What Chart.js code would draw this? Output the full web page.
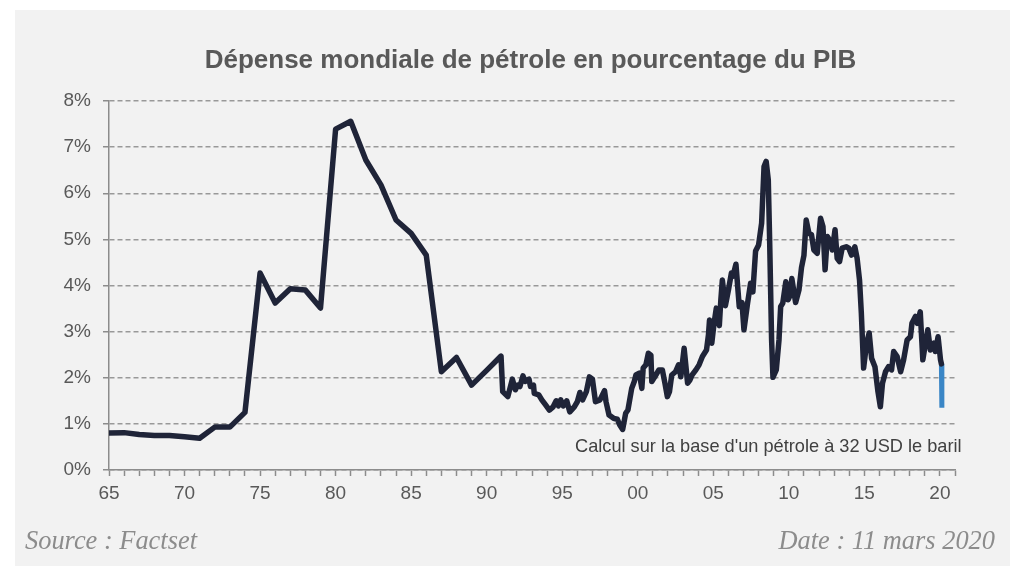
<!DOCTYPE html>
<html>
<head>
<meta charset="utf-8">
<script src="https://cdn.jsdelivr.net/npm/chart.js@4.4.1/dist/chart.umd.min.js"></script>
<style>
  html, body { margin:0; padding:0; background:#ffffff; }
  body { width:1024px; height:578px; position:relative; overflow:hidden; font-family:"Liberation Sans", Arial, sans-serif; }
  #panel { position:absolute; left:15px; top:10px; width:995px; height:556px; background:#f2f2f2; }
  #wrap { position:absolute; left:0; top:0; width:1024px; height:578px; }
  #title { position:absolute; left:0; top:46px; width:1061px; text-align:center; font:bold 26px/26px "Liberation Sans", Arial, sans-serif; color:#595959; white-space:nowrap; }
  #note { position:absolute; left:575px; top:437px; font:18.2px/18px "Liberation Sans", Arial, sans-serif; color:#404040; white-space:nowrap; }
  #src { position:absolute; left:25px; top:527px; font:italic 26.4px/26px "Liberation Serif", "Times New Roman", serif; color:#8c8c8c; white-space:nowrap; }
  #date { position:absolute; right:29px; top:527px; font:italic 26.4px/26px "Liberation Serif", "Times New Roman", serif; color:#8c8c8c; white-space:nowrap; }
</style>
</head>
<body>
<div id="panel"></div>
<div id="wrap"><canvas id="c" width="1024" height="578"></canvas></div>
<div id="title">Dépense mondiale de pétrole en pourcentage du PIB</div>
<div id="note">Calcul sur la base d'un pétrole à 32 USD le baril</div>
<div id="src">Source : Factset</div>
<div id="date">Date : 11 mars 2020</div>
<script>
// Year positions (decimal years) and oil spending as % of world GDP
const years = [
  1965,1966,1967,1968,1969,1970,1971,1972,1973,1974,1975,1976,1977,1978,1979,
  1980,1981,1982,1983,1984,1985,1986,1987,1988,1989,1990,1990.95,
  1991.06,1991.4,1991.7,1991.9,1992.05,1992.2,1992.4,1992.55,1992.8,1992.9,
  1993.1,1993.15,1993.45,1993.65,1993.9,1994.15,1994.4,1994.6,1994.75,1994.9,
  1995.07,1995.3,1995.5,1995.8,1996.0,1996.17,1996.35,1996.6,1996.8,1997.0,
  1997.2,1997.5,1997.8,1997.9,1998.1,1998.4,1998.65,1998.8,1999.0,1999.2,
  1999.35,1999.6,1999.77,1999.88,2000.1,2000.27,2000.36,2000.54,2000.7,2000.87,
  2000.93,2001.2,2001.4,2001.63,2001.8,2001.96,2002.1,2002.25,2002.5,2002.7,
  2002.85,2003.07,2003.3,2003.45,2003.6,2003.85,2004.06,2004.28,2004.55,2004.68,
  2004.75,2004.9,2005.05,2005.2,2005.4,2005.5,2005.6,2005.8,2006.0,2006.2,
  2006.3,2006.5,2006.72,2006.9,2007.03,2007.27,2007.47,2007.62,2007.8,2008.0,
  2008.2,2008.36,2008.5,2008.64,2008.73,2008.86,2008.95,2009.17,2009.35,2009.46,
  2009.6,2009.8,2009.95,2010.05,2010.2,2010.45,2010.67,2010.84,2011.0,2011.15,
  2011.33,2011.5,2011.66,2011.88,2012.1,2012.26,2012.4,2012.55,2012.77,2012.88,
  2013.06,2013.2,2013.36,2013.53,2013.8,2013.97,2014.15,2014.37,2014.52,2014.68,
  2014.8,2014.95,2015.15,2015.32,2015.48,2015.7,2015.9,2016.06,2016.2,2016.4,
  2016.6,2016.8,2016.94,2017.17,2017.4,2017.6,2017.83,2018.05,2018.15,2018.38,
  2018.5,2018.7,2018.87,2019.05,2019.2,2019.37,2019.6,2019.7,2019.88,2020.04,
  2020.1
];
const share = [
  0.80,0.81,0.77,0.75,0.75,0.72,0.69,0.93,0.93,1.25,4.27,3.62,3.93,3.90,3.51,
  7.39,7.56,6.72,6.18,5.42,5.13,4.66,2.13,2.44,1.84,2.16,2.47,
  1.70,1.59,1.97,1.74,1.84,1.81,2.04,1.92,1.97,1.81,
  1.84,1.66,1.63,1.52,1.41,1.30,1.37,1.50,1.39,1.52,
  1.39,1.50,1.26,1.37,1.48,1.68,1.52,1.70,2.02,1.97,
  1.48,1.52,1.72,1.48,1.19,1.12,1.10,0.98,0.88,1.23,
  1.30,1.77,1.92,2.06,2.10,1.77,2.21,2.28,2.53,2.49,
  1.92,2.06,2.17,2.17,1.88,1.59,1.70,2.06,2.13,2.28,
  2.02,2.64,1.88,1.95,2.06,2.17,2.28,2.46,2.60,2.93,
  3.25,2.75,3.18,3.51,3.13,3.69,4.12,3.56,3.90,4.27,
  4.20,4.46,3.54,3.63,3.04,3.62,4.05,3.86,4.75,4.88,
  5.35,6.58,6.69,6.29,4.99,2.82,2.01,2.17,2.82,3.54,
  3.62,4.08,3.69,3.76,4.15,3.63,3.90,4.39,4.65,5.42,
  5.13,5.10,4.77,4.70,5.46,5.28,4.34,5.06,4.95,4.77,
  5.21,4.59,4.52,4.81,4.84,4.81,4.66,4.84,4.59,4.12,
  3.40,2.21,2.75,2.97,2.42,2.24,1.70,1.37,1.88,2.13,
  2.24,2.17,2.57,2.46,2.13,2.39,2.82,2.89,3.18,3.33,
  3.18,3.43,2.39,2.75,3.04,2.60,2.75,2.57,2.89,2.39,
  2.30
];
// Scenario at 32 USD per barrel (blue segment)
const scenarioYears = [2020.1, 2020.13];
const scenarioShare = [2.30, 1.35];

const yTicks = [0,1,2,3,4,5,6,7,8];

const toPts = (xs, ys) => xs.map((x, i) => ({x: x, y: ys[i]}));

new Chart(document.getElementById('c'), {
  type: 'line',
  data: {
    datasets: [
      {
        data: toPts(years, share),
        borderColor: '#1f2438',
        borderWidth: 5.5,
        pointRadius: 0,
        tension: 0,
        borderJoinStyle: 'round',
        borderCapStyle: 'round',
        fill: false
      },
      {
        data: toPts(scenarioYears, scenarioShare),
        borderColor: '#3a86c6',
        borderWidth: 5,
        pointRadius: 0,
        tension: 0,
        borderCapStyle: 'butt',
        fill: false
      }
    ]
  },
  options: {
    responsive: false,
    animation: false,
    devicePixelRatio: 1,
    layout: { padding: { left: 0, right: 69, top: 101, bottom: 0 } },
    plugins: { legend: { display: false }, tooltip: { enabled: false }, title: { display: false } },
    scales: {
      x: {
        type: 'linear',
        min: 1965,
        max: 2021,
        afterFit: (s) => { s.height = 108; },
        afterBuildTicks: (s) => {
          const t = [];
          for (let y = 1965; y <= 2021; y++) t.push({value: y});
          s.ticks = t;
        },
        ticks: {
          autoSkip: false,
          maxRotation: 0,
          padding: 6,
          color: '#595959',
          font: { family: '"Liberation Sans", Arial, sans-serif', size: 19 },
          callback: (v) => (v % 5 === 0 && v <= 2020) ? String(v % 100).padStart(2, '0') : ''
        },
        grid: { display: true, drawOnChartArea: false, drawTicks: true, tickLength: 6, tickColor: '#8c8c8c', tickWidth: 1.5 },
        border: { display: true, color: '#8c8c8c', width: 1.5 }
      },
      y: {
        min: 0,
        max: 8,
        afterFit: (s) => { s.width = 109; },
        afterBuildTicks: (s) => { s.ticks = yTicks.map(v => ({value: v})); },
        ticks: {
          padding: 12,
          color: '#595959',
          font: { family: '"Liberation Sans", Arial, sans-serif', size: 19 },
          callback: (v) => v + '%'
        },
        grid: { color: '#999999', lineWidth: 1.5, tickLength: 6, tickColor: '#8c8c8c', tickWidth: 1.5, tickBorderDash: [] },
        border: { display: true, color: '#8c8c8c', width: 1.5, dash: [5, 3] }
      }
    }
  }
});
</script>
</body>
</html>
